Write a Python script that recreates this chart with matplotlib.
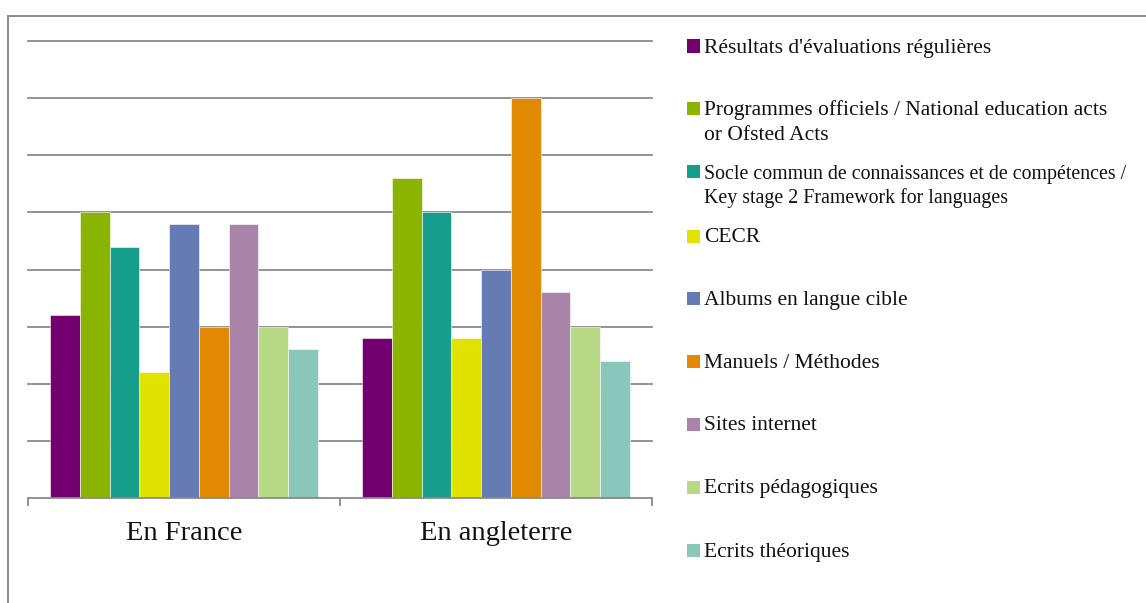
import matplotlib
matplotlib.use("Agg")
import matplotlib.pyplot as plt
import numpy as np
from matplotlib.lines import Line2D
from matplotlib.patches import Rectangle

# ---------------------------------------------------------------------------
# Data (one grid step = 1 unit)
# ---------------------------------------------------------------------------
groups = ["En France", "En angleterre"]
series = [
    "Résultats d'évaluations régulières",
    "Programmes officiels / National education acts\nor Ofsted Acts",
    "Socle commun de connaissances et de compétences /\nKey stage 2 Framework for languages",
    "CECR",
    "Albums en langue cible",
    "Manuels / Méthodes",
    "Sites internet",
    "Ecrits pédagogiques",
    "Ecrits théoriques",
]
france = [3.2, 5.0, 4.4, 2.2, 4.8, 3.0, 4.8, 3.0, 2.6]
angleterre = [2.8, 5.6, 5.0, 2.8, 4.0, 7.0, 3.6, 3.0, 2.4]
colors = ["#72006F", "#8AB400", "#169E8C", "#E2E200", "#667BB3",
          "#E18900", "#A884A8", "#B8D985", "#8AC7BB"]

W, H = 1146, 603
GRID = "#8a8a8a"
FONT = ["Liberation Serif", "DejaVu Serif"]

fig = plt.figure(figsize=(W / 100, H / 100), dpi=100)
fig.patch.set_facecolor("white")

# outer chart-area frame (only the top and left edges show in the crop)
fig.add_artist(Line2D([8 / W, 8 / W], [0, 1 - 15.5 / H], transform=fig.transFigure,
                      color=GRID, lw=1.4))
fig.add_artist(Line2D([8 / W, 1], [1 - 15.5 / H, 1 - 15.5 / H], transform=fig.transFigure,
                      color=GRID, lw=1.4))

# plot area: x 28..652 px, y 41..498 px
ax = fig.add_axes([28 / W, 1 - 498 / H, 624 / W, (498 - 41) / H])
ax.set_xlim(0, 2)
ax.set_ylim(0, 8)

n = len(series)
bw = 0.0955
centers = np.arange(len(groups)) + 0.5
values = np.array([france, angleterre])
for i in range(n):
    xs = centers - n * bw / 2 + (i + 0.5) * bw
    ax.bar(xs, values[:, i], width=bw, color=colors[i], edgecolor="white",
           linewidth=0.4, zorder=3)

# gridlines
for y in range(1, 9):
    ax.axhline(y, color=GRID, lw=1.3, zorder=1, clip_on=False)

for s in ["top", "right", "left"]:
    ax.spines[s].set_visible(False)
ax.spines["bottom"].set_color(GRID)
ax.spines["bottom"].set_linewidth(1.3)
ax.spines["bottom"].set_zorder(4)
ax.set_yticks([])
ax.set_xticks([0, 1, 2])
ax.set_xticklabels([])
ax.tick_params(axis="x", length=6, width=1.3, color=GRID, direction="out")
for c, g in zip(centers, groups):
    ax.text(c, -0.62, g, ha="center", va="center", fontsize=20.5,
            family=FONT, color="#111111")

# legend, built by hand to match the Office layout
leg_y = [46, 108, 172, 236, 298, 361, 424, 487, 550]
leg_size = [15.5, 15.5, 14.3, 15.5, 15.5, 15.5, 15.5, 15.5, 15.5]
leg_ls = [1.0, 1.38, 1.3, 1.0, 1.0, 1.0, 1.0, 1.0, 1.0]
for lab, col, y, fs, ls in zip(series, colors, leg_y, leg_size, leg_ls):
    fig.add_artist(Rectangle((687 / W, 1 - (y + 6.5) / H), 13 / W, 13 / H,
                             transform=fig.transFigure, color=col, lw=0))
    fig.text(704 / W, 1 - (y - 7.5 * fs / 15.5) / H, lab, ha="left", va="top",
             fontsize=fs, family=FONT, color="#111111", linespacing=ls)

fig.savefig("out.png", dpi=100, facecolor="white")
